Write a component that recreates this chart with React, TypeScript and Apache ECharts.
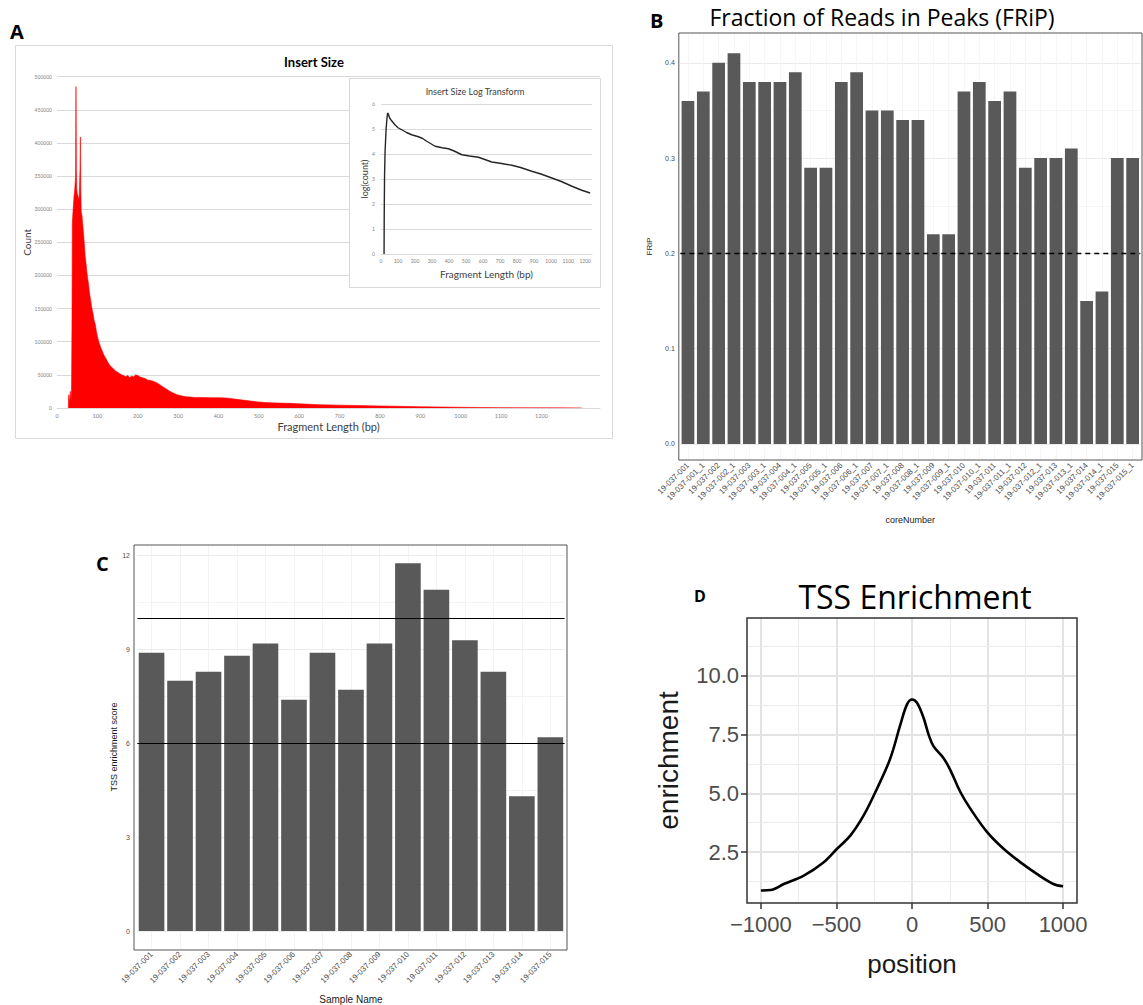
import React, { useEffect, useRef } from "react";
import * as echarts from "echarts";

// ---------- Panel A: insert size histogram ----------
const insertLen = [28, 29, 31, 33, 35, 36, 37, 38, 40, 42, 44, 46, 47, 48, 49, 50, 52, 53, 55, 57, 58, 59, 60, 62, 64, 66, 68, 70, 72, 74, 76, 78, 80, 82, 84, 86, 88, 90, 92, 95, 98, 101, 104, 108, 112, 116, 120, 125, 130, 135, 140, 145, 150, 155, 160, 165, 170, 175, 180, 185, 190, 195, 200, 205, 210, 215, 220, 225, 230, 240, 250, 260, 270, 280, 290, 300, 310, 320, 330, 340, 350, 360, 370, 380, 390, 400, 420, 440, 460, 480, 500, 525, 550, 575, 600, 650, 700, 750, 800, 850, 900, 950, 1000, 1050, 1100, 1150, 1200, 1250, 1300];
const insertCount = [0, 20000, 8000, 25000, 12000, 30000, 120000, 280000, 300000, 318000, 330000, 350000, 485000, 360000, 330000, 324000, 320000, 316000, 318000, 360000, 409000, 330000, 296000, 290000, 275000, 262000, 245000, 228000, 218000, 205000, 196000, 188000, 176000, 168000, 160000, 152000, 146000, 140000, 132000, 126000, 114000, 106000, 99000, 92000, 86000, 80000, 76000, 70000, 65000, 62000, 59000, 56000, 54000, 52000, 50000, 49000, 47000, 49000, 46000, 48000, 47000, 50000, 49000, 47000, 46000, 45000, 44000, 42000, 42000, 40000, 37000, 33000, 29000, 25000, 22000, 19500, 18000, 17000, 16500, 16000, 16000, 15800, 15700, 15600, 15500, 15500, 15000, 13500, 12000, 10500, 9000, 8000, 7400, 7000, 6300, 5000, 4300, 3700, 3100, 2500, 1900, 1500, 1100, 800, 550, 400, 300, 200, 120];
const insertXTicks = [0, 100, 200, 300, 400, 500, 600, 700, 800, 900, 1000, 1100, 1200];

// inset: log transform
const logLen = [18, 19, 21, 24, 30, 36, 39, 43, 50, 60, 82, 100, 122, 150, 180, 220, 245, 269, 318, 360, 396, 430, 475, 520, 573, 610, 651, 700, 769, 820, 886, 940, 1004, 1060, 1122, 1180, 1229];
const logCount = [0, 1.6, 3.2, 4.1, 5.0, 5.5, 5.64, 5.6, 5.45, 5.35, 5.17, 5.05, 4.97, 4.86, 4.77, 4.69, 4.62, 4.51, 4.31, 4.25, 4.21, 4.12, 3.97, 3.92, 3.87, 3.78, 3.68, 3.63, 3.55, 3.46, 3.31, 3.2, 3.04, 2.9, 2.71, 2.55, 2.44];

// ---------- Panel B: FRiP ----------
const fripSamples = ["19-037-001", "19-037-001_1", "19-037-002", "19-037-002_1", "19-037-003", "19-037-003_1", "19-037-004", "19-037-004_1", "19-037-005", "19-037-005_1", "19-037-006", "19-037-006_1", "19-037-007", "19-037-007_1", "19-037-008", "19-037-008_1", "19-037-009", "19-037-009_1", "19-037-010", "19-037-010_1", "19-037-011", "19-037-011_1", "19-037-012", "19-037-012_1", "19-037-013", "19-037-013_1", "19-037-014", "19-037-014_1", "19-037-015", "19-037-015_1"];
const fripValues = [0.36, 0.37, 0.40, 0.41, 0.38, 0.38, 0.38, 0.39, 0.29, 0.29, 0.38, 0.39, 0.35, 0.35, 0.34, 0.34, 0.22, 0.22, 0.37, 0.38, 0.36, 0.37, 0.29, 0.30, 0.30, 0.31, 0.15, 0.16, 0.30, 0.30];
const fripTicks = [0, 0.1, 0.2, 0.3, 0.4];
const fripMinor = [0.05, 0.15, 0.25, 0.35];
const fripThreshold = 0.2;

// ---------- Panel C: TSS enrichment score ----------
const tssSamples = ["19-037-001", "19-037-002", "19-037-003", "19-037-004", "19-037-005", "19-037-006", "19-037-007", "19-037-008", "19-037-009", "19-037-010", "19-037-011", "19-037-012", "19-037-013", "19-037-014", "19-037-015"];
const tssScores = [8.89, 8.0, 8.29, 8.8, 9.19, 7.39, 8.89, 7.71, 9.19, 11.75, 10.91, 9.29, 8.29, 4.31, 6.19];
const tssTicks = [0, 3, 6, 9, 12];
const tssMinor = [1.5, 4.5, 7.5, 10.5];
const tssThresholds = [6, 10];

// ---------- Panel D: TSS enrichment profile ----------
const tssPos = [-1000, -936, -848, -716, -584, -496, -407, -319, -231, -143, -77, -33, 0, 33, 77, 110, 143, 209, 253, 319, 385, 496, 606, 716, 826, 936, 1000];
const tssEnrich = [0.86, 0.88, 1.14, 1.5, 2.07, 2.64, 3.21, 4.07, 5.21, 6.5, 7.93, 8.79, 9.0, 8.86, 8.21, 7.5, 7.0, 6.5, 6.0, 5.07, 4.36, 3.36, 2.64, 2.07, 1.57, 1.14, 1.04];
const posTicks = [-1000, -500, 0, 500, 1000];
const posMinor = [-750, -250, 250, 750];
const enrichTicks = [2.5, 5, 7.5, 10];
const enrichMinor = [1.25, 3.75, 6.25, 8.75, 11.25];

const FA = 'Lato, "Open Sans", sans-serif';
const FR = '"Liberation Sans", Arial, sans-serif';
const FT = '"Open Sans", sans-serif';

const C_TOP = 545;
const C_BOTTOM = 950;
const C_ZERO_Y = 932;
const C_PX_PER_UNIT = 31.37;
const C_MIN = -(C_BOTTOM - C_ZERO_Y) / C_PX_PER_UNIT;
const C_MAX = (C_ZERO_Y - C_TOP) / C_PX_PER_UNIT;

function buildOption(): any {
  const hidden = { show: false };
  const noLine = { show: false, onZero: false };
  const gridLineMark = (data: any[], color: string, width: number) => ({
    silent: true,
    symbol: "none",
    z: 1,
    label: { show: false },
    emphasis: { disabled: true },
    lineStyle: { color, width, type: "solid" },
    data,
  });

  return {
    animation: false,
    backgroundColor: "#ffffff",
    grid: [
      { left: 57, top: 76.7, width: 543, height: 331.3 },
      { left: 381, top: 104, width: 211, height: 150 },
      { left: 680.3, top: 33, width: 460, height: 427 },
      { left: 137.3, top: C_TOP, width: 427.3, height: C_BOTTOM - C_TOP },
      { left: 747, top: 618, width: 330, height: 285 },
    ],
    xAxis: [
      {
        gridIndex: 0, type: "value", min: 0, max: 1345,
        axisLine: { show: true, onZero: false, lineStyle: { color: "#d9d9d9" } },
        axisTick: hidden, splitLine: hidden,
        axisLabel: { customValues: insertXTicks, fontSize: 5.5, color: "#7f7f7f", margin: 5, fontFamily: FA, formatter: (v: number) => String(v) },
        name: "Fragment Length (bp)", nameLocation: "middle", nameGap: 13, nameMoveOverlap: false,
        nameTextStyle: { fontSize: 11, color: "#404040", fontFamily: FA },
      },
      {
        gridIndex: 1, type: "value", min: 0, max: 1240, z: 10,
        axisLine: { show: true, onZero: false, lineStyle: { color: "#d9d9d9" } },
        axisTick: hidden, splitLine: hidden,
        axisLabel: { customValues: insertXTicks, fontSize: 5, color: "#7f7f7f", margin: 4, fontFamily: FA, formatter: (v: number) => String(v) },
        name: "Fragment Length (bp)", nameLocation: "middle", nameGap: 15, nameMoveOverlap: false,
        nameTextStyle: { fontSize: 10, color: "#404040", fontFamily: FA },
      },
      {
        gridIndex: 2, type: "category", data: fripSamples,
        axisLine: noLine,
        axisTick: { alignWithLabel: true, length: 3, lineStyle: { color: "#333" } },
        splitLine: hidden,
        axisLabel: { rotate: 45, fontSize: 8, color: "#4d4d4d", margin: 4, fontFamily: FR },
        name: "coreNumber", nameLocation: "middle", nameGap: 55, nameMoveOverlap: false,
        nameTextStyle: { fontSize: 9, color: "#1a1a1a", fontFamily: FR },
      },
      {
        gridIndex: 3, type: "category", data: tssSamples,
        axisLine: noLine,
        axisTick: { alignWithLabel: true, length: 3, lineStyle: { color: "#333" } },
        splitLine: hidden,
        axisLabel: { rotate: 45, fontSize: 8, color: "#4d4d4d", margin: 4, fontFamily: FR },
        name: "Sample Name", nameLocation: "middle", nameGap: 45, nameMoveOverlap: false,
        nameTextStyle: { fontSize: 10, color: "#1a1a1a", fontFamily: FR },
      },
      {
        gridIndex: 4, type: "value", min: -1092, max: 1092, minInterval: 500, maxInterval: 500,
        axisLine: noLine,
        axisTick: { customValues: posTicks, length: 6, lineStyle: { color: "#333", width: 1.5 } },
        splitLine: { show: true, lineStyle: { color: "#e3e3e3", width: 2 } },
        axisLabel: {
          customValues: posTicks, fontSize: 22, color: "#4d4d4d", margin: 10, fontFamily: FR,
          formatter: (v: number) => String(v).replace("-", "\u2212"),
        },
        name: "position", nameLocation: "middle", nameGap: 48, nameMoveOverlap: false,
        nameTextStyle: { fontSize: 26, color: "#1a1a1a", fontFamily: FR },
      },
    ],
    yAxis: [
      {
        gridIndex: 0, type: "value", min: 0, max: 500000, interval: 50000,
        axisLine: noLine, axisTick: hidden,
        splitLine: { show: true, lineStyle: { color: "#d9d9d9", width: 1 } },
        axisLabel: { fontSize: 5, color: "#7f7f7f", margin: 5, fontFamily: FA, formatter: (v: number) => String(v) },
        name: "Count", nameLocation: "middle", nameGap: 25, nameMoveOverlap: false,
        nameTextStyle: { fontSize: 10, color: "#404040", fontFamily: FA },
      },
      {
        gridIndex: 1, type: "value", min: 0, max: 6, interval: 1, z: 10,
        axisLine: noLine, axisTick: hidden,
        splitLine: { show: true, lineStyle: { color: "#d9d9d9", width: 1 } },
        axisLabel: { fontSize: 5, color: "#7f7f7f", margin: 6, fontFamily: FA },
        name: "log(count)", nameLocation: "middle", nameGap: 12, nameMoveOverlap: false,
        nameTextStyle: { fontSize: 9, color: "#404040", fontFamily: FA },
      },
      {
        gridIndex: 2, type: "value", min: -0.0168, max: 0.4313, minInterval: 0.1, maxInterval: 0.1, offset: 1.5,
        axisLine: noLine,
        axisTick: { customValues: fripTicks, length: 3, lineStyle: { color: "#333" } },
        splitLine: { show: true, lineStyle: { color: "#ebebeb", width: 1 } },
        axisLabel: { customValues: fripTicks, fontSize: 7, color: "#4d4d4d", margin: 4, fontFamily: FR, formatter: (v: number) => v.toFixed(1) },
        name: "FRiP", nameLocation: "middle", nameGap: 25, nameMoveOverlap: false,
        nameTextStyle: { fontSize: 8, color: "#1a1a1a", fontFamily: FR },
      },
      {
        gridIndex: 3, type: "value", min: C_MIN, max: C_MAX, minInterval: 3, maxInterval: 3, offset: 3.3,
        axisLine: noLine,
        axisTick: { customValues: tssTicks, length: 3, lineStyle: { color: "#333" } },
        splitLine: { show: true, lineStyle: { color: "#ebebeb", width: 1 } },
        axisLabel: { customValues: tssTicks, fontSize: 7, color: "#4d4d4d", margin: 4, fontFamily: FR },
        name: "TSS enrichment score", nameLocation: "middle", nameGap: 16, nameMoveOverlap: false,
        nameTextStyle: { fontSize: 9, color: "#1a1a1a", fontFamily: FR },
      },
      {
        gridIndex: 4, type: "value", min: 0.33, max: 12.47, minInterval: 2.5, maxInterval: 2.5,
        axisLine: noLine,
        axisTick: { customValues: enrichTicks, length: 6, lineStyle: { color: "#333", width: 1.5 } },
        splitLine: { show: true, lineStyle: { color: "#e3e3e3", width: 2 } },
        axisLabel: { customValues: enrichTicks, fontSize: 22, color: "#4d4d4d", margin: 8, fontFamily: FR, formatter: (v: number) => v.toFixed(1) },
        name: "enrichment", nameLocation: "middle", nameGap: 65, nameMoveOverlap: false,
        nameTextStyle: { fontSize: 28, color: "#1a1a1a", fontFamily: FR },
      },
    ],
    series: [
      {
        type: "line", xAxisIndex: 0, yAxisIndex: 0, z: 2,
        data: insertLen.map((x, i) => [x, insertCount[i]]),
        symbol: "none",
        lineStyle: { color: "#ff0000", width: 0.6 },
        areaStyle: { color: "#ff0000", opacity: 1 },
      },
      {
        type: "line", xAxisIndex: 1, yAxisIndex: 1, z: 12,
        data: logLen.map((x, i) => [x, logCount[i]]),
        symbol: "none",
        lineStyle: { color: "#262626", width: 1.4 },
      },
      {
        type: "line", xAxisIndex: 2, yAxisIndex: 2, z: 1, data: [],
        markLine: gridLineMark([
          ...fripMinor.map((v) => ({ yAxis: v })),
          ...fripSamples.map((s) => ({ xAxis: s })),
        ], "#f2f2f2", 0.7),
      },
      {
        type: "bar", xAxisIndex: 2, yAxisIndex: 2, z: 2,
        data: fripValues, barCategoryGap: "17%",
        itemStyle: { color: "#595959" },
        markLine: {
          silent: true, symbol: "none", label: { show: false },
          lineStyle: { color: "#000", width: 1.4, type: [5, 4] },
          data: [{ yAxis: fripThreshold }],
        },
      },
      {
        type: "line", xAxisIndex: 3, yAxisIndex: 3, z: 1, data: [],
        markLine: gridLineMark([
          ...tssMinor.map((v) => ({ yAxis: v })),
          ...tssSamples.map((s) => ({ xAxis: s })),
        ], "#f0f0f0", 0.8),
      },
      {
        type: "bar", xAxisIndex: 3, yAxisIndex: 3, z: 2,
        data: tssScores, barCategoryGap: "10%",
        itemStyle: { color: "#595959" },
        markLine: {
          silent: true, symbol: "none", label: { show: false },
          lineStyle: { color: "#000", width: 1, type: "solid" },
          data: tssThresholds.map((v) => ({ yAxis: v })),
        },
      },
      {
        type: "line", xAxisIndex: 4, yAxisIndex: 4, z: 1, data: [],
        markLine: gridLineMark([
          ...posMinor.map((v) => ({ xAxis: v })),
          ...enrichMinor.map((v) => ({ yAxis: v })),
        ], "#ececec", 1),
      },
      {
        type: "line", xAxisIndex: 4, yAxisIndex: 4, z: 3,
        data: tssPos.map((x, i) => [x, tssEnrich[i]]),
        symbol: "none", smooth: 0.35,
        lineStyle: { color: "#000", width: 2.6 },
      },
    ],
    graphic: [
      { type: "rect", z: 20, shape: { x: 15.5, y: 45.5, width: 597, height: 393 }, style: { fill: "none", stroke: "#d9d9d9", lineWidth: 1 } },
      { type: "rect", z: 5, shape: { x: 349.5, y: 78.5, width: 251, height: 209 }, style: { fill: "#ffffff", stroke: "#d9d9d9", lineWidth: 1 } },
      { type: "text", z: 20, x: 10, y: 31, style: { text: "A", font: `bold 20px ${FT}`, fill: "#000", verticalAlign: "middle" } },
      { type: "text", z: 20, x: 314, y: 62, style: { text: "Insert Size", font: `bold 13px ${FA}`, fill: "#000", align: "center", verticalAlign: "middle" } },
      { type: "text", z: 20, x: 475, y: 91, style: { text: "Insert Size Log Transform", font: `9px ${FA}`, fill: "#404040", align: "center", verticalAlign: "middle" } },
      { type: "text", z: 20, x: 650, y: 20, style: { text: "B", font: `bold 20px ${FT}`, fill: "#000", verticalAlign: "middle" } },
      { type: "text", z: 20, x: 882, y: 17, style: { text: "Fraction of Reads in Peaks (FRiP)", font: `23px ${FT}`, fill: "#000", align: "center", verticalAlign: "middle" } },
      { type: "rect", z: 20, shape: { x: 678.8, y: 33, width: 463.2, height: 427 }, style: { fill: "none", stroke: "#555", lineWidth: 1 } },
      { type: "text", z: 20, x: 96, y: 563, style: { text: "C", font: `bold 20px ${FT}`, fill: "#000", verticalAlign: "middle" } },
      { type: "rect", z: 20, shape: { x: 134, y: C_TOP, width: 433, height: C_BOTTOM - C_TOP }, style: { fill: "none", stroke: "#555", lineWidth: 1 } },
      { type: "text", z: 20, x: 694, y: 596, style: { text: "D", font: `bold 16px ${FT}`, fill: "#000", verticalAlign: "middle" } },
      { type: "text", z: 20, x: 915, y: 596, style: { text: "TSS Enrichment", font: `32px ${FT}`, fill: "#000", align: "center", verticalAlign: "middle" } },
      { type: "rect", z: 20, shape: { x: 747, y: 618, width: 330, height: 285 }, style: { fill: "none", stroke: "#333", lineWidth: 1.5 } },
    ],
  };
}

export default function App() {
  const ref = useRef<HTMLDivElement>(null);
  useEffect(() => {
    if (!ref.current) return;
    const chart = echarts.init(ref.current, null, { renderer: "svg", width: 1143, height: 1005 });
    chart.setOption(buildOption());
    return () => chart.dispose();
  }, []);
  return (
    <div
      ref={ref}
      style={{ position: "absolute", left: 0, top: 0, width: 1143, height: 1005, background: "#fff" }}
    />
  );
}
